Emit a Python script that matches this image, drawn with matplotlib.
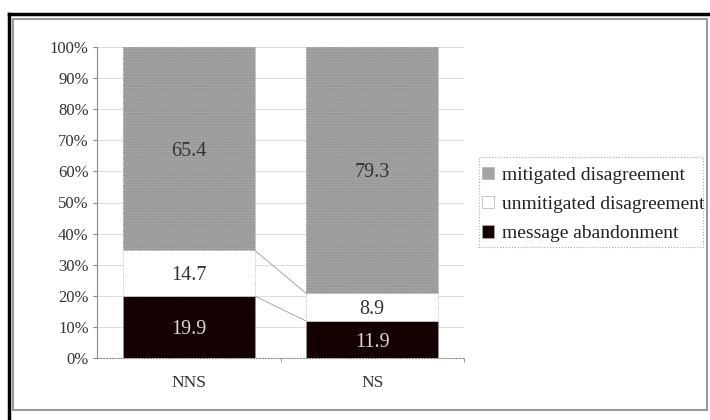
import numpy as np
import matplotlib.pyplot as plt
from matplotlib.patches import Patch, Rectangle
from matplotlib.lines import Line2D

groups = ['NNS', 'NS']
series = ['message abandonment', 'unmitigated disagreement', 'mitigated disagreement']
abandonment = [19.9, 11.9]
unmitigated = [14.7, 8.9]
mitigated = [65.4, 79.3]
yticks = [0, 10, 20, 30, 40, 50, 60, 70, 80, 90, 100]

plt.rcParams['font.family'] = ['Liberation Serif', 'DejaVu Serif']

fig = plt.figure(figsize=(7.1, 4.2), dpi=100)
ax = fig.add_axes([97/710, 1 - 358/420, (464 - 97)/710, (358 - 47)/420])

vals = np.array([abandonment, unmitigated, mitigated])
pct = vals / vals.sum(axis=0) * 100
x = np.arange(len(groups))
w = 0.72
fills = ['#140000', '#ffffff', '#a4a4a4']
txtcol = ['#d8d8d8', '#333333', '#333333']

bottom = np.zeros(len(groups))
for i in range(3):
    ax.bar(x, pct[i], w, bottom=bottom, color=fills[i], edgecolor='#b0b0b0',
           linewidth=0.6, linestyle=':', zorder=3)
    if i == 2:
        ax.bar(x, pct[i], w, bottom=bottom, facecolor='none', edgecolor='#939393',
               hatch='......', linewidth=0, zorder=3)
    for j in range(len(groups)):
        ax.text(x[j], bottom[j] + pct[i][j] / 2, f'{vals[i][j]:.1f}', ha='center',
                va='center_baseline', fontsize=14.5, color=txtcol[i], zorder=5)
    bottom = bottom + pct[i]
    if i < 2:
        ax.plot([x[0] + w/2, x[1] - w/2], [bottom[0], bottom[1]], color='#9a9a9a',
                linewidth=0.6, zorder=2)

ax.set_xlim(-0.5, 1.5)
ax.set_ylim(0, 100)
ax.set_yticks(yticks)
ax.set_yticklabels([f'{t}%' for t in yticks])
ax.set_xticks(x)
ax.set_xticklabels(groups)
ax.set_xticks([0.5, 1.5], minor=True)
ax.tick_params(axis='x', which='major', length=0, pad=12, labelsize=12.5, labelcolor='#333333')
ax.tick_params(axis='x', which='minor', length=3, direction='out', color='#888888')
ax.tick_params(axis='y', length=3, color='#888888', labelsize=12, labelcolor='#333333', pad=3)
ax.grid(axis='y', color='#dedede', linewidth=0.8, zorder=0)
ax.set_axisbelow(True)
for s in ['top', 'right']:
    ax.spines[s].set_visible(False)
ax.spines['left'].set_color('#8a8a8a')
ax.spines['bottom'].set_color('#8a8a8a')
ax.spines['bottom'].set_linestyle(':')

handles = [Patch(facecolor=fills[i], edgecolor='#b0b0b0', linewidth=0.5) for i in [2, 1, 0]]
leg = fig.legend(handles, [series[i] for i in [2, 1, 0]], loc='upper left',
                 bbox_to_anchor=(482/710, 1 - 167/420), fontsize=14, frameon=False,
                 handlelength=0.6, handleheight=0.6, handletextpad=0.45,
                 labelspacing=0.62, borderpad=0, borderaxespad=0)
for t in leg.get_texts():
    t.set_color('#222222')
# legend box drawn by hand: text runs past it in the original
fig.add_artist(Rectangle((479/710, 1 - 247/420), (703 - 479)/710, 90/420,
                         transform=fig.transFigure, fill=False, edgecolor='#aaaaaa',
                         linewidth=0.8, linestyle=':'))

# outer frames
fig.add_artist(Rectangle((13/710, 1 - 410/420), (707 - 13)/710, (410 - 19)/420,
                         transform=fig.transFigure, fill=False, edgecolor='#9a9a9a', linewidth=1.5))
fig.add_artist(Line2D([9/710, 1], [1 - 14/420, 1 - 14/420], transform=fig.transFigure,
                      color='black', linewidth=2.5))
fig.add_artist(Line2D([9/710, 9/710], [0, 1 - 14/420], transform=fig.transFigure,
                      color='black', linewidth=2.5))

fig.savefig('out.png', dpi=100)
